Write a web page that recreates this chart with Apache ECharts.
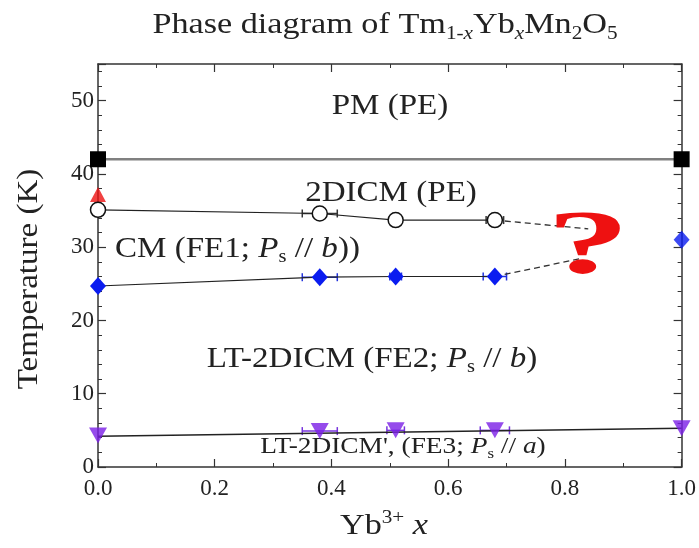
<!DOCTYPE html>
<html><head><meta charset="utf-8">
<script src="https://cdn.jsdelivr.net/npm/echarts@6/dist/echarts.min.js"></script>
<style>html,body{margin:0;padding:0;background:#fff}#c{width:699px;height:548px}</style>
</head><body><div id="c"></div>
<script>
// ---- data ----
const pmX = [0, 1.0];
const pmT = [42, 42];
const redX = [0];
const redT = [37.2];
const circX = [0, 0.38, 0.51, 0.68];
const circT = [35.1, 34.6, 33.7, 33.7];
const circDashX = [0.68, 0.84];
const circDashT = [33.7, 32.5];
const diaX = [0, 0.38, 0.51, 0.68];
const diaT = [24.7, 25.9, 26.0, 26.0];
const diaDashX = [0.68, 0.83];
const diaDashT = [26.0, 28.5];
const diaEndX = [1.0];
const diaEndT = [31.0];
const triX = [0, 0.38, 0.51, 0.68, 1.0];
const triT = [4.3, 4.9, 5.0, 5.0, 5.3];
const triLineX = [0, 1.0];
const triLineT = [4.2, 5.3];
// horizontal error bars [x, T, dx]
const circErr = [[0.38, 34.6, 0.03], [0.68, 33.7, 0.015]];
const diaErr = [[0.38, 25.9, 0.03], [0.51, 26.0, 0.01], [0.68, 26.0, 0.02]];
const triErr = [[0.38, 4.9, 0.03], [0.51, 5.0, 0.015], [0.68, 5.0, 0.025]];
const xTicks = [0, 0.2, 0.4, 0.6, 0.8, 1.0];
const yTicks = [0, 10, 20, 30, 40, 50];

const zip = (a, b) => a.map((v, i) => [v, b[i]]);
const FF = '"Liberation Serif", "DejaVu Serif", serif';
const TXT = '#222';

// ---- text with sub/superscripts built from pieces ----
const mctx = document.createElement('canvas').getContext('2d');
function fontFor(kind, fs) {
  const small = kind === 's' || kind === 'si' || kind === 'u';
  const it = kind === 'i' || kind === 'si';
  return (it ? 'italic ' : '') + (small ? (fs * 0.62).toFixed(1) : fs) + 'px ' + FF;
}
function rlabel(parts, x, y, fs, opts) {
  opts = opts || {};
  let w = 0;
  const kids = [];
  parts.forEach(p => {
    const kind = p[1] || '';
    const font = fontFor(kind, fs);
    mctx.font = font;
    const pw = mctx.measureText(p[0]).width;
    const dy = (kind === 's' || kind === 'si') ? fs * 0.29 : (kind === 'u' ? -fs * 0.27 : 0);
    kids.push({type: 'text', x: w, y: dy, style: {text: p[0], font: font, fill: opts.color || TXT,
      align: 'left', verticalAlign: 'middle'}});
    w += pw;
  });
  const off = opts.align === 'left' ? 0 : -w / 2;
  kids.forEach(k => { k.x += off; });
  return {type: 'group', x: x, y: y, scaleX: opts.sx || 1.14, rotation: opts.rot || 0, z: 10, children: kids};
}

function errSeries(data, color) {
  return {
    type: 'custom', data: data, z: 3,
    renderItem: function (params, api) {
      const x = api.value(0), y = api.value(1), e = api.value(2);
      const a = api.coord([x - e, y]), b = api.coord([x + e, y]);
      const st = {stroke: color, lineWidth: 1.5};
      return {type: 'group', children: [
        {type: 'line', shape: {x1: a[0], y1: a[1], x2: b[0], y2: b[1]}, style: st},
        {type: 'line', shape: {x1: a[0], y1: a[1] - 4, x2: a[0], y2: a[1] + 4}, style: st},
        {type: 'line', shape: {x1: b[0], y1: b[1] - 4, x2: b[0], y2: b[1] + 4}, style: st}
      ]};
    }
  };
}

const axisLine = {show: true, onZero: false, lineStyle: {color: '#333', width: 1.5}};
const tick = {inside: true, length: 8, lineStyle: {color: '#333', width: 1.2}};
const chart = echarts.init(document.getElementById('c'));
chart.setOption({
  animation: false,
  backgroundColor: '#fff',
  grid: {left: 98, right: 17, top: 64, bottom: 81},
  xAxis: [{
    type: 'value', min: 0, max: 1, interval: 0.2, position: 'bottom',
    axisLine: axisLine, axisTick: tick,
    minorTick: {show: true, splitNumber: 2, length: 4, lineStyle: {color: '#333'}},
    axisLabel: {fontSize: 23, fontFamily: FF, color: TXT, margin: 10,
      formatter: v => xTicks.some(t => Math.abs(t - v) < 1e-9) ? v.toFixed(1) : ''},
    splitLine: {show: false}
  }, {
    type: 'value', min: 0, max: 1, interval: 0.2, position: 'top',
    axisLine: axisLine, axisTick: tick,
    minorTick: {show: true, splitNumber: 2, length: 4, lineStyle: {color: '#333'}},
    axisLabel: {show: false}, splitLine: {show: false}
  }],
  yAxis: [{
    type: 'value', min: 0, max: 55, interval: 10, position: 'left',
    axisLine: axisLine, axisTick: tick,
    minorTick: {show: true, splitNumber: 5, length: 4, lineStyle: {color: '#333'}},
    axisLabel: {fontSize: 23, fontFamily: FF, color: TXT, margin: 4,
      formatter: v => yTicks.indexOf(v) >= 0 ? String(v) : ''},
    splitLine: {show: false}
  }, {
    type: 'value', min: 0, max: 55, interval: 10, position: 'right',
    axisLine: axisLine, axisTick: tick,
    minorTick: {show: true, splitNumber: 5, length: 4, lineStyle: {color: '#333'}},
    axisLabel: {show: false}, splitLine: {show: false}
  }],
  series: [
    {type: 'line', data: zip(pmX, pmT), symbol: 'rect', symbolSize: 16,
      lineStyle: {color: '#808080', width: 2.5}, itemStyle: {color: '#000'}, z: 4},
    {type: 'line', data: zip(circDashX, circDashT), symbol: 'none',
      lineStyle: {color: '#333', width: 1.3, type: [6, 4]}, z: 3},
    {type: 'line', data: zip(diaDashX, diaDashT), symbol: 'none',
      lineStyle: {color: '#333', width: 1.3, type: [6, 4]}, z: 3},
    errSeries(circErr, '#333'),
    errSeries(diaErr, '#2233dd'),
    errSeries(triErr, '#7733dd'),
    {type: 'line', data: zip(circX, circT), symbol: 'circle', symbolSize: 15,
      lineStyle: {color: '#222', width: 1.2},
      itemStyle: {color: '#fff', borderColor: '#111', borderWidth: 1.5}, z: 5},
    {type: 'line', data: zip(diaX, diaT), symbol: 'diamond', symbolSize: [16, 18],
      lineStyle: {color: '#222', width: 1.2}, itemStyle: {color: '#0a1cf0'}, z: 5},
    {type: 'scatter', data: zip(diaEndX, diaEndT), symbol: 'diamond', symbolSize: [16, 18],
      itemStyle: {color: '#0a1cf0'}, z: 5},
    {type: 'line', data: zip(triLineX, triLineT), symbol: 'none',
      lineStyle: {color: '#222', width: 1.5}, z: 4},
    {type: 'scatter', data: zip(triX, triT), symbol: 'triangle', symbolRotate: 180, symbolSize: [18, 16],
      itemStyle: {color: '#7a1ee6'}, z: 5},
    {type: 'scatter', data: zip(redX, redT), symbol: 'triangle', symbolSize: [16, 15],
      itemStyle: {color: '#ee1111'}, z: 4}
  ],
  graphic: [
    rlabel([['Phase diagram of Tm'], ['1-', 's'], ['x', 'si'], ['Yb'], ['x', 'si'], ['Mn'], ['2', 's'], ['O'], ['5', 's']], 385, 25, 30),
    rlabel([['Temperature (K)']], 29, 279, 29, {rot: Math.PI / 2}),
    rlabel([['Yb'], ['3+', 'u'], [' '], ['x', 'i']], 384, 526, 30),
    rlabel([['PM (PE)']], 390, 106, 29),
    rlabel([['2DICM (PE)']], 391, 193, 29),
    rlabel([['CM (FE1; '], ['P', 'i'], ['s', 's'], [' // '], ['b', 'i'], ['))']], 115, 249, 29, {align: 'left'}),
    rlabel([['LT-2DICM (FE2; '], ['P', 'i'], ['s', 's'], [' // '], ['b', 'i'], [')']], 372, 359, 29),
    rlabel([["LT-2DICM', (FE3; "], ['P', 'i'], ['s', 's'], [' // '], ['a', 'i'], [')']], 403, 447, 24),
    {type: 'text', x: 588, y: 250, z: 11, scaleX: 1.85,
      style: {text: '?', font: 'bold 90px ' + FF, fill: '#ee1111', align: 'center', verticalAlign: 'middle'}}
  ]
});
</script></body></html>
